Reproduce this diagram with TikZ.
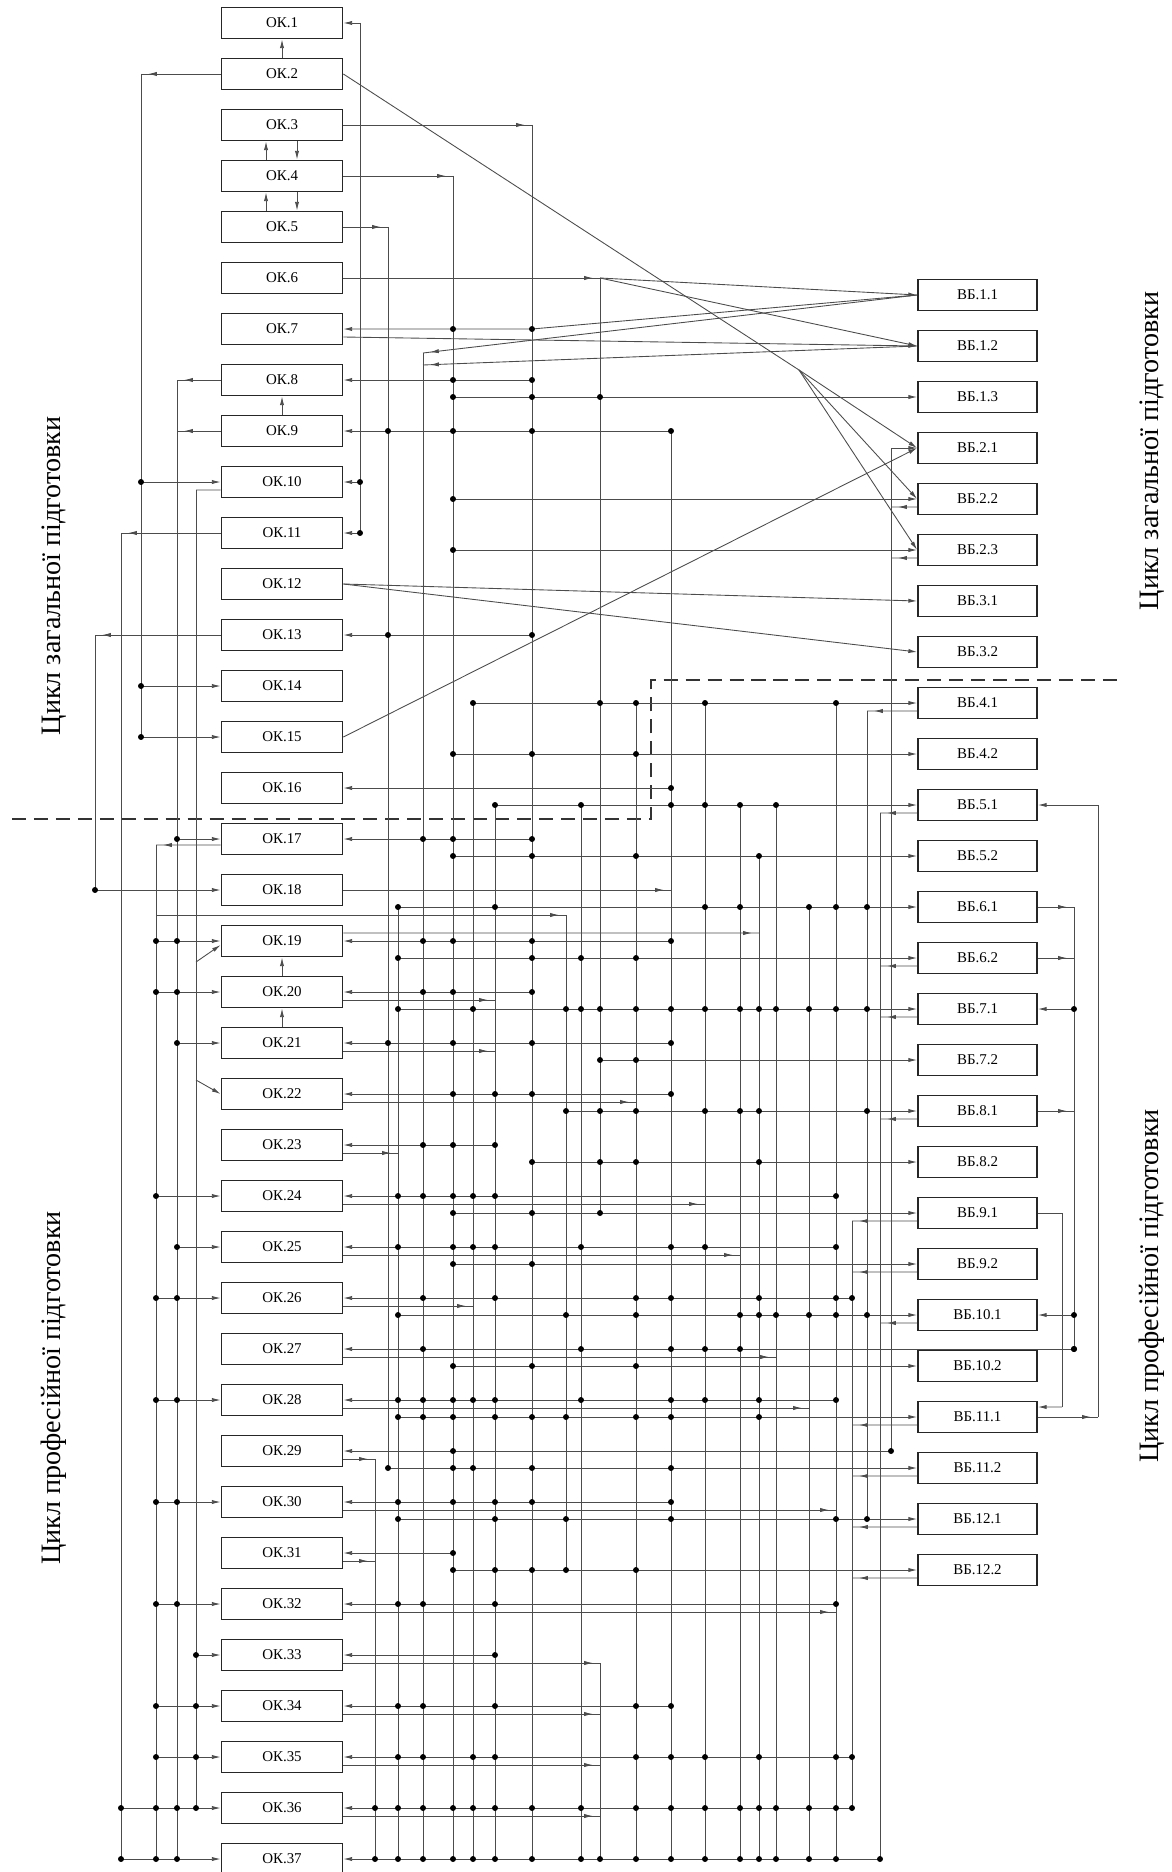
\documentclass[tikz,border=0pt]{standalone}
\usepackage{fontspec}
\setmainfont{Liberation Serif}
\usetikzlibrary{arrows.meta,decorations.markings}
\tikzset{
  wire/.style={draw=black!70,line width=0.5pt},
  into/.style={wire,-{Latex[length=5pt,width=2.4pt]}},
  tobus/.style={wire,postaction={decorate},
    decoration={markings,mark=at position -4pt with {\arrow{Latex[length=5pt,width=2.4pt]}}}},
  okbox/.style={draw=black!85,line width=1pt,fill=white,minimum width=2.42cm,
    minimum height=0.62cm,inner sep=0pt,font=\fontsize{8.5}{10}\selectfont},
  vbbox/.style={okbox,minimum width=2.38cm},
  cyclelabel/.style={rotate=90,font=\fontsize{16}{19}\selectfont},
  divider/.style={draw=black!80,line width=1.3pt,dash pattern=on 8pt off 4.5pt},
}
\begin{document}
\begin{tikzpicture}[x=0.02cm,y=-0.02cm]
  \useasboundingbox (0,0) rectangle (1171,1872);

  \foreach \i in {1,...,37}
    \node[okbox] (ok\i) at (282,{51*\i-28}) {ОК.\i};
  \foreach \lab [count=\k] in {1.1,1.2,1.3,2.1,2.2,2.3,3.1,3.2,4.1,4.2,5.1,5.2,6.1,6.2,
      7.1,7.2,8.1,8.2,9.1,9.2,10.1,10.2,11.1,11.2,12.1,12.2}
    \node[vbbox] (vb\k) at (977.5,{51*\k+244}) {ВБ.\lab};

  \node[cyclelabel] (genL) at (54,576) {Цикл загальної підготовки};
  \node[cyclelabel] (proL) at (54,1388) {Цикл професійної підготовки};
  \node[cyclelabel] (genR) at (1152,451) {Цикл загальної підготовки};
  \node[cyclelabel] (proR) at (1152,1286) {Цикл професійної підготовки};

  \draw[divider] (12,819) -- (651,819) -- (651,680) -- (1122,680);

  % buses
  \foreach \x/\ya/\yb in {360/23/533,375/1459/1859,388/227/1468,398/907/1859,423/353/1859,
      453/176/1859,473/703/1859,495/805/1859,532/125/1859,566/915/1570,581/805/1859,
      600/278/1213,600/1663/1859,636/703/1859,671/431/1859,705/703/1859,740/805/1859,
      759/856/1859,776/805/1859,809/907/1859,836/703/1859,852/1221/1808,867/711/1518,
      880/813/1859,891/448/1452,1062/1213/1407,1074/907/1349,1098/805/1417,
      95/635/890,121/533/1859,141/74/737,156/845/1859,177/380/1859,196/490/1808}
    \draw[wire] (\x,\ya) -- (\x,\yb);

  % grid -> OK
  \foreach \i/\xe/\dl in {8/532/{453,532},9/671/{388,453,532,671},13/532/{388,532},
      16/671/{671},17/532/{423,453,532},19/671/{423,453,532,671},20/532/{423,453,532},
      21/671/{388,453,532,671},22/671/{453,495,532,671},23/495/{423,453,495},
      24/836/{398,423,453,473,495,836},25/836/{398,453,473,495,581,671,705,836},
      26/852/{423,495,636,671,759,836,852},27/1074/{423,581,671,705,740,1074},
      28/836/{398,423,453,473,495,581,671,705,759,836},29/891/{453,891},
      30/671/{398,453,495,532,671},31/453/{453},32/836/{398,423,495,836},33/495/{495},
      34/671/{398,423,495,636,671},35/852/{398,423,473,495,636,671,705,759,836,852},
      36/852/{375,398,423,453,473,495,532,581,636,671,705,740,759,776,809,836,852},
      37/880/{375,398,423,453,473,495,532,581,600,636,671,705,740,759,776,809,836,880}}{
    \draw[into] (\xe,{51*\i-28}) -- (ok\i.east);
    \foreach \d in \dl \fill (\d,{51*\i-28}) circle (1.7pt);
  }

  % grid -> VB
  \foreach \k/\xs/\dl in {3/453/{453,532,600},5/453/{453},6/453/{453},
      9/473/{473,600,636,705,836},10/453/{453,532,636},11/495/{495,581,671,705,740,776},
      12/453/{453,532,636,759},13/398/{398,495,705,740,809,836,867},14/398/{398,532,581,636},
      15/398/{398,473,566,581,600,636,671,705,740,759,776,809,836,867},16/600/{600,636},
      17/566/{566,600,636,705,740,759,867},18/532/{532,600,636,759},19/453/{453,532,600},
      20/453/{453,532},21/398/{398,566,636,740,759,776,809,836,867},22/453/{453,532,636},
      23/398/{398,423,453,495,532,566,636,671,759},24/388/{388,453,473,532,671},
      25/398/{398,495,566,671,836,867},26/453/{453,495,532,566,636}}{
    \draw[into] (\xs,{51*\k+244}) -- (vb\k.west);
    \foreach \d in \dl \fill (\d,{51*\k+244}) circle (1.7pt);
  }

  % OK -> bus
  \foreach \i/\dy/\xb in {3/0/532,4/0/453,5/0/388,18/0/671,20/8/495,21/8/495,22/8/636,
      23/8/398,24/8/705,25/8/740,26/8/473,27/8/776,28/8/809,29/8/375,30/8/836,31/8/375,
      32/8/836,33/8/600,34/8/600,35/8/600,36/8/600}
    \draw[tobus] ([yshift=-\dy*0.02cm]ok\i.east) -- (\xb,{51*\i-28+\dy});
  \draw[tobus] ([yshift=0.16cm]ok19.east) -- (759,933);

  % VB -> bus
  \foreach \k/\xb in {5/891,6/891,9/867,11/880,14/880,15/880,17/880,19/852,20/852,
      21/880,23/852,24/852,25/852,26/852}
    \draw[tobus] ([yshift=-0.16cm]vb\k.west) -- (\xb,{51*\k+252});

  % left side
  \foreach \i/\xs/\dl in {10/141/{141},14/141/{141},15/141/{141},17/177/{177},18/95/{95},
      19/156/{156,177},20/156/{156,177},21/177/{177},24/156/{156},25/177/{177},
      26/156/{156,177},28/156/{156,177},30/156/{156,177},32/156/{156,177},33/196/{196},
      34/156/{156,196},35/156/{156,196},36/121/{121,156,177,196},37/121/{121,156,177}}{
    \draw[into] (\xs,{51*\i-28}) -- (ok\i.west);
    \foreach \d in \dl \fill (\d,{51*\i-28}) circle (1.7pt);
  }
  \draw[tobus] (ok2.west) -- (141,74);
  \draw[tobus] (ok8.west) -- (177,380);
  \draw[tobus] (ok9.west) -- (177,431);
  \draw[tobus] (ok11.west) -- (121,533);
  \draw[tobus] (ok13.west) -- (95,635);
  \draw[tobus] ([yshift=-0.12cm]ok17.west) -- (156,845);
  \draw[wire] ([yshift=-0.16cm]ok10.west) -- (196,490);
  \draw[tobus] (156,915) -- (566,915);
  \draw[into] (196,962) -- ([yshift=-0.08cm]ok19.west);
  \draw[into] (196,1080) -- (ok22.west);

  % right side
  \draw[tobus] (vb13.east) -- (1074,907);
  \draw[tobus] (vb14.east) -- (1074,958);
  \draw[into] (1074,1009) -- (vb15.east);
  \draw[tobus] (vb17.east) -- (1074,1111);
  \draw[into] (1074,1315) -- (vb21.east);
  \foreach \y in {1009,1315,1349} \fill (1074,\y) circle (1.7pt);
  \draw[wire] (vb19.east) -- (1062,1213);
  \draw[into] (1062,1407) -- ([yshift=0.2cm]vb23.east);
  \draw[tobus] (vb23.east) -- (1098,1417);
  \draw[into] (1098,805) -- (vb11.east);

  % upper block
  \draw[into] (360,23) -- (ok1.east);
  \draw[into] (360,482) -- (ok10.east);
  \draw[into] (360,533) -- (ok11.east);
  \fill (360,482) circle (1.7pt) (360,533) circle (1.7pt);
  \draw[tobus] (ok6.east) -- (600,278);
  \draw[into] (600,278) -- (vb1.west);
  \draw[into] (600,278) -- (vb2.west);
  \draw[into] (vb1.west) -- (532,329) -- (ok7.east);
  \fill (453,329) circle (1.7pt) (532,329) circle (1.7pt);
  \draw[into] ([yshift=-0.16cm]ok7.east) -- (vb2.west);
  \draw[tobus] (vb1.west) -- (423,353);
  \draw[tobus] (vb2.west) -- (423,365);
  \draw[wire] (ok2.east) -- (799,370);
  \foreach \k in {4,5,6} \draw[into] (799,370) -- (vb\k.west);
  \draw[into] (ok12.east) -- (vb7.west);
  \draw[into] (ok12.east) -- (vb8.west);
  \draw[into] (ok15.east) -- (vb4.west);
  \draw[into] (891,448) -- (vb4.west);

  \draw[into] (ok2.north) -- (ok1.south);
  \draw[into] ([xshift=-0.32cm]ok4.north) -- ([xshift=-0.32cm]ok3.south);
  \draw[into] ([xshift=0.3cm]ok3.south) -- ([xshift=0.3cm]ok4.north);
  \draw[into] ([xshift=-0.32cm]ok5.north) -- ([xshift=-0.32cm]ok4.south);
  \draw[into] ([xshift=0.3cm]ok4.south) -- ([xshift=0.3cm]ok5.north);
  \draw[into] (ok9.north) -- (ok8.south);
  \draw[into] (ok20.north) -- (ok19.south);
  \draw[into] (ok21.north) -- (ok20.south);
\end{tikzpicture}
\end{document}
